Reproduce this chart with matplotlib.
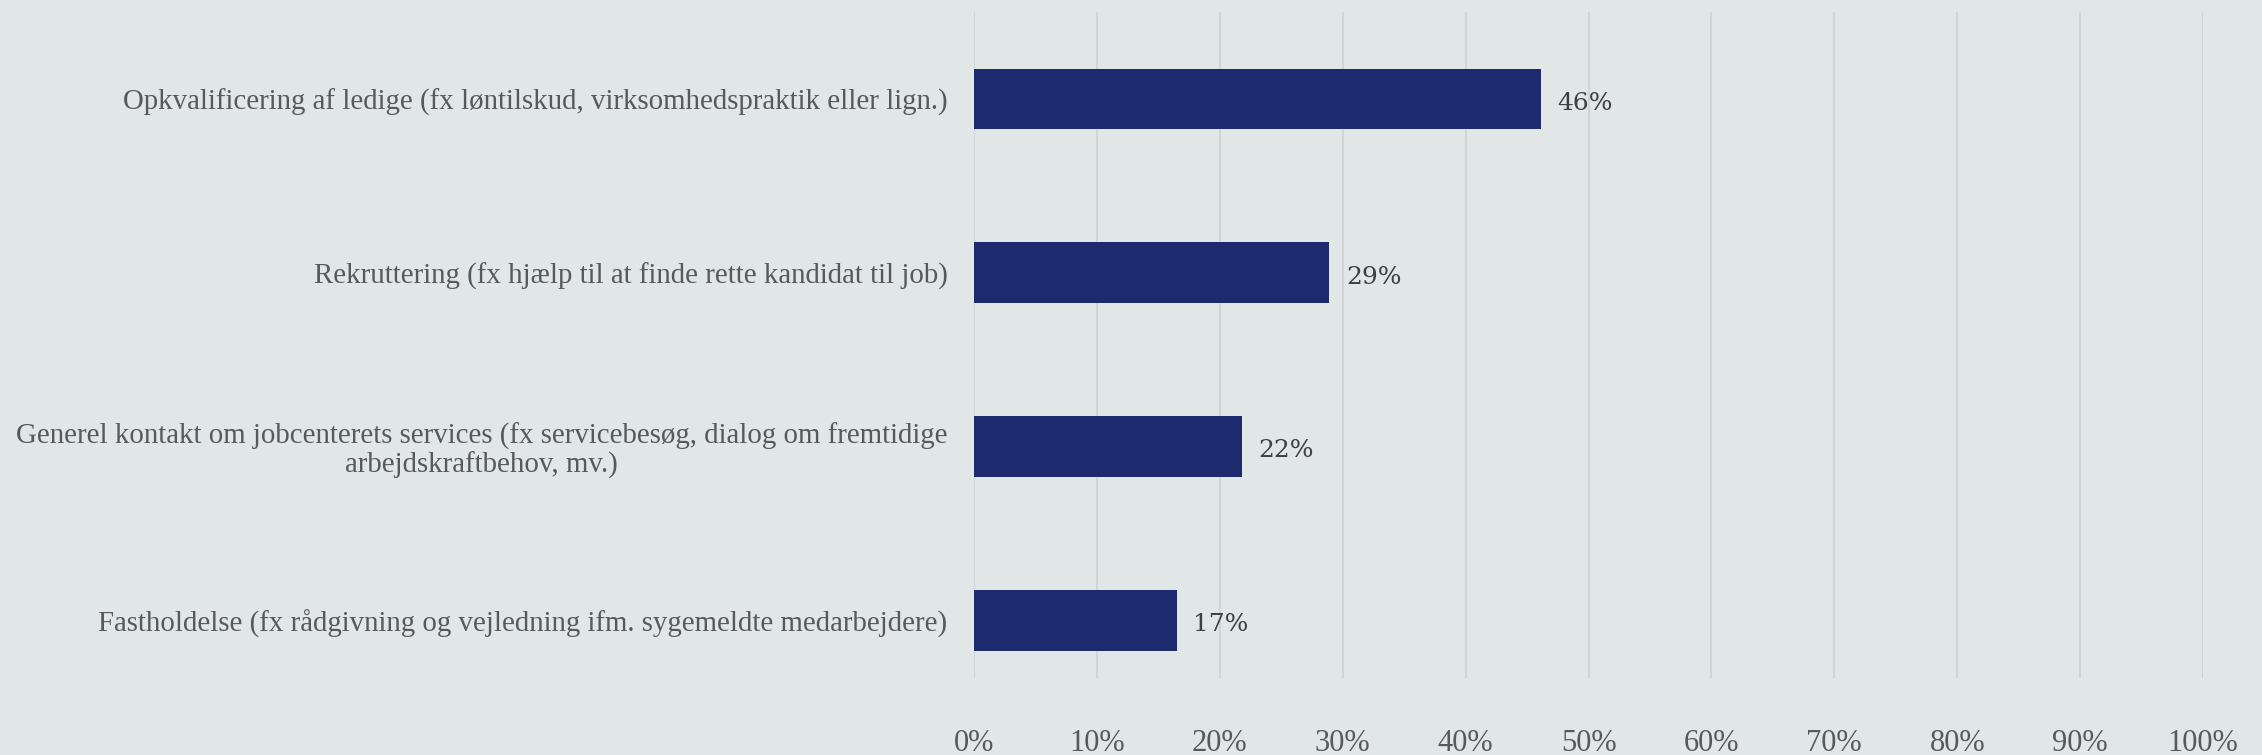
import numpy as np
import matplotlib.pyplot as plt

categories = [
    "Opkvalificering af ledige (fx løntilskud, virksomhedspraktik eller lign.)",
    "Rekruttering (fx hjælp til at finde rette kandidat til job)",
    "Generel kontakt om jobcenterets services (fx servicebesøg, dialog om fremtidige\narbejdskraftbehov, mv.)",
    "Fastholdelse (fx rådgivning og vejledning ifm. sygemeldte medarbejdere)",
]
values = [46.1, 28.9, 21.8, 16.5]
xticks = list(range(0, 101, 10))
xticklabels = ["{}%".format(t) for t in xticks]

bg = "#e1e7e7"
bar_color = "#1d2a6d"
plt.rcParams['font.family'] = ['Liberation Serif', 'DejaVu Serif']

fig = plt.figure(figsize=(22.62, 7.55), dpi=100, facecolor=bg)
W, H = 2262, 755
ax = fig.add_axes([974 / W, 1 - 678 / H, (2203 - 974) / W, (678 - 12) / H])
ax.set_facecolor(bg)

y = np.arange(len(categories))
ax.barh(y, values, height=0.35, color=bar_color, zorder=3)
for yi, v in zip(y, values):
    # round half up, like the source
    ax.annotate("{}%".format(int(v + 0.5)), (v, yi), xytext=(12, -3), textcoords="offset points",
                va="center", ha="left", fontsize=18, color="#404040",
                family=['DejaVu Serif'])

ax.set_xlim(0, 100)
ax.set_ylim(3.33, -0.5)
ax.set_xticks(xticks)
ax.set_xticklabels(xticklabels)
ax.set_yticks(y)
ax.set_yticklabels(categories, multialignment="center", linespacing=1.1)
ax.xaxis.grid(True, color="#d2d5d5", linewidth=1.5, zorder=0)
ax.tick_params(axis="x", length=0, pad=37, labelsize=22, labelcolor="#595959")
ax.tick_params(axis="y", length=0, pad=19, labelsize=20.8, labelcolor="#595959")
for s in ax.spines.values():
    s.set_visible(False)

plt.savefig("out.png", dpi=100, facecolor=bg)
